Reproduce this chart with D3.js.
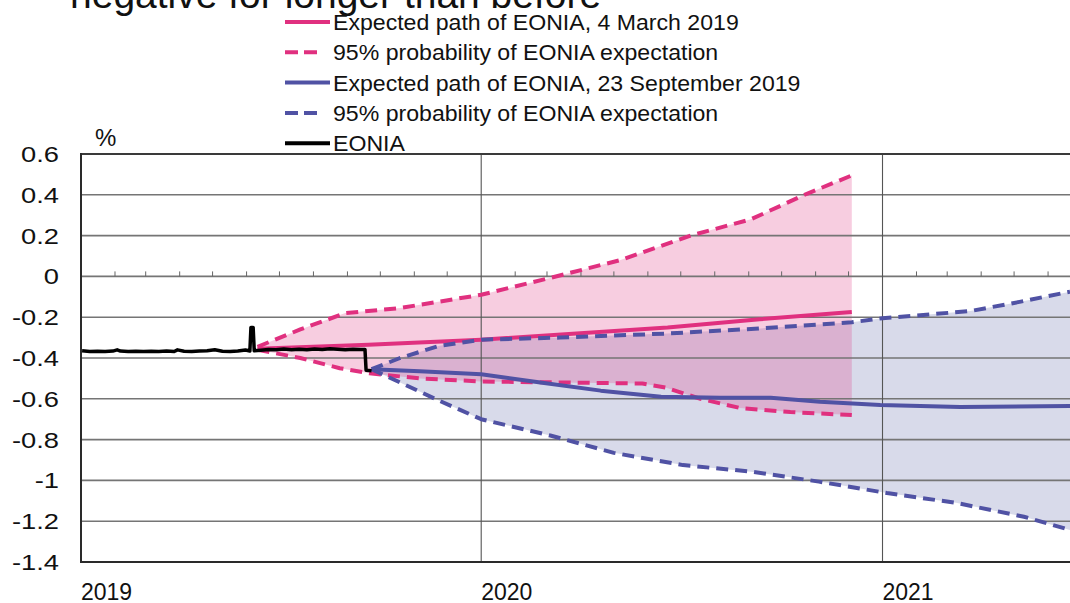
<!DOCTYPE html>
<html>
<head>
<meta charset="utf-8">
<script src="https://cdn.jsdelivr.net/npm/d3@7"></script>
<style>
  html, body { margin: 0; padding: 0; background: #fff; }
  svg { display: block; font-family: "Liberation Sans", Arial, sans-serif; }
</style>
</head>
<body>
<svg id="chart" width="1070" height="603"></svg>
<script>
// ---------------- DATA ----------------
const titleText = "negative for longer than before";
const yTicks = [0.6, 0.4, 0.2, 0, -0.2, -0.4, -0.6, -0.8, -1, -1.2, -1.4];
const yTickLabels = ["0.6", "0.4", "0.2", "0", "-0.2", "-0.4", "-0.6", "-0.8", "-1", "-1.2", "-1.4"];
const yearLabels = ["2019", "2020", "2021"];
const legendLabels = [
  "Expected path of EONIA, 4 March 2019",
  "95% probability of EONIA expectation",
  "Expected path of EONIA, 23 September 2019",
  "95% probability of EONIA expectation",
  "EONIA"
];

const eoniaDates = ["2019-01-02","2019-01-09","2019-01-16","2019-01-23","2019-01-30","2019-02-03","2019-02-06","2019-02-13","2019-02-20","2019-02-27","2019-03-06","2019-03-13","2019-03-20","2019-03-27","2019-03-30","2019-04-05","2019-04-12","2019-04-19","2019-04-26","2019-05-03","2019-05-10","2019-05-17","2019-05-24","2019-05-31","2019-06-04","2019-06-05","2019-06-07","2019-06-08","2019-06-14","2019-06-21","2019-06-28","2019-07-05","2019-07-12","2019-07-19","2019-07-26","2019-08-02","2019-08-09","2019-08-16","2019-08-23","2019-08-30","2019-09-06","2019-09-13","2019-09-17","2019-09-18","2019-09-23"];
const eoniaValues = [-0.365,-0.368,-0.367,-0.368,-0.366,-0.360,-0.366,-0.368,-0.367,-0.368,-0.367,-0.368,-0.366,-0.368,-0.360,-0.367,-0.368,-0.366,-0.364,-0.360,-0.367,-0.368,-0.366,-0.361,-0.366,-0.250,-0.250,-0.365,-0.362,-0.358,-0.360,-0.356,-0.359,-0.357,-0.360,-0.356,-0.358,-0.355,-0.357,-0.359,-0.357,-0.358,-0.358,-0.460,-0.462];

const marchDates = ["2019-06-11","2019-09-20","2020-01-01","2020-06-19","2020-09-11","2020-12-04"];
const marchPath  = [-0.355,-0.335,-0.31,-0.25,-0.21,-0.175];

const marchUpperDates = ["2019-06-11","2019-07-20","2019-08-30","2019-10-19","2020-01-01","2020-03-02","2020-05-07","2020-07-10","2020-09-03","2020-10-24","2020-12-04"];
const marchUpper = [-0.345,-0.26,-0.18,-0.155,-0.09,-0.01,0.08,0.2,0.28,0.405,0.495];

const marchLowerDates = ["2019-06-11","2019-07-20","2019-08-25","2019-09-21","2019-11-06","2020-01-01","2020-03-13","2020-05-27","2020-06-17","2020-07-19","2020-08-24","2020-10-09","2020-12-04"];
const marchLower = [-0.36,-0.40,-0.45,-0.475,-0.50,-0.515,-0.52,-0.525,-0.545,-0.60,-0.645,-0.665,-0.68];

const septDates = ["2019-09-23","2019-11-06","2020-01-01","2020-02-24","2020-04-19","2020-06-13","2020-08-06","2020-09-21","2020-11-05","2020-12-30","2021-03-13","2021-06-21"];
const septPath  = [-0.455,-0.465,-0.48,-0.52,-0.56,-0.59,-0.595,-0.595,-0.615,-0.63,-0.64,-0.635];

const septUpperDates = ["2019-09-23","2019-10-19","2019-11-24","2020-01-01","2020-03-13","2020-06-19","2020-09-11","2020-12-04","2021-01-01","2021-03-22","2021-05-06","2021-06-21"];
const septUpper = [-0.455,-0.40,-0.34,-0.31,-0.30,-0.28,-0.255,-0.225,-0.205,-0.17,-0.125,-0.075];

const septLowerDates = ["2019-09-23","2019-10-19","2019-11-24","2020-01-01","2020-03-04","2020-05-01","2020-07-03","2020-09-03","2020-11-04","2021-01-05","2021-03-09","2021-05-10","2021-06-21"];
const septLower = [-0.455,-0.52,-0.61,-0.70,-0.78,-0.865,-0.925,-0.957,-1.006,-1.062,-1.11,-1.178,-1.243];

// ---------------- STYLE ----------------
const PINK = "#e0307f";
const BLUE = "#5052a4";
const parse = d3.timeParse("%Y-%m-%d");
const zip = (ds, vs) => ds.map((d, i) => ({ date: parse(d), v: vs[i] }));

const svg = d3.select("#chart");
const M = { left: 81, right: 1070, top: 154, bottom: 562 };

const x = d3.scaleTime()
  .domain([parse("2019-01-01"), parse("2021-06-21")])
  .range([M.left, M.right]);
const y = d3.scaleLinear().domain([-1.4, 0.6]).range([M.bottom, M.top]);

function stretch(sel, f) {
  sel.each(function () {
    const w = this.getComputedTextLength();
    d3.select(this).attr("textLength", w * f).attr("lengthAdjust", "spacingAndGlyphs");
  });
}

// Title (cropped at top)
svg.append("text").attr("x", 70).attr("y", 8)
  .attr("font-size", 39).attr("fill", "#111").text(titleText);

// Fills
const lineGen = d3.line().x(d => x(d.date)).y(d => y(d.v));
function bandPath(up, lo) {
  return lineGen(up.concat(lo.slice().reverse())) + "Z";
}
const sU = zip(septUpperDates, septUpper), sL = zip(septLowerDates, septLower);
const mU = zip(marchUpperDates, marchUpper), mL = zip(marchLowerDates, marchLower);

svg.append("path").attr("d", bandPath(sU, sL)).attr("fill", "rgba(78,88,160,0.22)");
svg.append("path").attr("d", bandPath(mU, mL)).attr("fill", "rgba(223,55,131,0.25)");

// Horizontal gridlines
svg.append("g").selectAll("line").data(yTicks.filter(t => t !== 0.6 && t !== -1.4)).join("line")
  .attr("x1", M.left).attr("x2", M.right)
  .attr("y1", d => y(d)).attr("y2", d => y(d))
  .attr("stroke", "#757575").attr("stroke-width", 1.6);

// Vertical year gridlines
const yearDates = yearLabels.map(s => parse(s + "-01-01"));
svg.append("g").selectAll("line").data(yearDates.slice(1)).join("line")
  .attr("x1", d => x(d)).attr("x2", d => x(d))
  .attr("y1", M.top).attr("y2", M.bottom)
  .attr("stroke", "#555").attr("stroke-width", 1.1);

// Month ticks on zero line
const months = d3.timeMonth.range(parse("2019-01-01"), parse("2021-06-21")).filter(d => d.getMonth() !== 0);
svg.append("g").selectAll("line").data(months).join("line")
  .attr("x1", d => x(d)).attr("x2", d => x(d))
  .attr("y1", y(0)).attr("y2", y(0) - 5)
  .attr("stroke", "#666").attr("stroke-width", 1);

// Frame
svg.append("line").attr("x1", M.left).attr("x2", M.right).attr("y1", M.top).attr("y2", M.top)
  .attr("stroke", "#3a3a3a").attr("stroke-width", 2.2);
svg.append("line").attr("x1", M.left).attr("x2", M.right).attr("y1", M.bottom).attr("y2", M.bottom)
  .attr("stroke", "#2a2a2a").attr("stroke-width", 2.2);
svg.append("line").attr("x1", M.left).attr("x2", M.left).attr("y1", M.top - 1).attr("y2", M.bottom + 1)
  .attr("stroke", "#2a2a2a").attr("stroke-width", 2);

// Lines
const dash = "12,7";
function drawLine(data, color, w, dashed) {
  svg.append("path").attr("d", lineGen(data)).attr("fill", "none")
    .attr("stroke", color).attr("stroke-width", w)
    .attr("stroke-dasharray", dashed ? dash : null)
    .attr("stroke-linejoin", "round");
}
drawLine(mU, PINK, 4, true);
drawLine(mL, PINK, 4, true);
drawLine(zip(marchDates, marchPath), PINK, 4, false);
drawLine(sU, BLUE, 4, true);
drawLine(sL, BLUE, 4, true);
drawLine(zip(septDates, septPath), BLUE, 4, false);
drawLine(zip(eoniaDates, eoniaValues), "#000", 3.5, false);

// Y axis labels
const yl = svg.append("g").selectAll("text").data(yTicks).join("text")
  .attr("x", 59).attr("y", d => y(d) + 8)
  .attr("text-anchor", "end").attr("font-size", 22).attr("fill", "#111")
  .text((d, i) => yTickLabels[i]);
stretch(yl, 1.24);

svg.append("text").attr("x", 95).attr("y", 146).attr("font-size", 24).attr("fill", "#111").text("%");

// Year labels
svg.append("g").selectAll("text").data(yearDates).join("text")
  .attr("x", d => x(d)).attr("y", 600)
  .attr("font-size", 23).attr("fill", "#111")
  .text((d, i) => yearLabels[i]);

// Legend
const legendStyles = [
  { c: PINK, d: false }, { c: PINK, d: true },
  { c: BLUE, d: false }, { c: BLUE, d: true },
  { c: "#000", d: false }
];
const lg = svg.append("g").selectAll("g").data(legendLabels).join("g")
  .attr("transform", (d, i) => `translate(0, ${22 + i * 30.3})`);
lg.append("line").attr("x1", 285).attr("x2", (d, i) => legendStyles[i].d ? 322 : 330)
  .attr("y1", 0).attr("y2", 0)
  .attr("stroke", (d, i) => legendStyles[i].c).attr("stroke-width", 4)
  .attr("stroke-dasharray", (d, i) => legendStyles[i].d ? "13,6" : null);
const lt = lg.append("text").attr("x", 333).attr("y", 8)
  .attr("font-size", 22).attr("fill", "#111").text(d => d);
stretch(lt, 1.05);
</script>
</body>
</html>
